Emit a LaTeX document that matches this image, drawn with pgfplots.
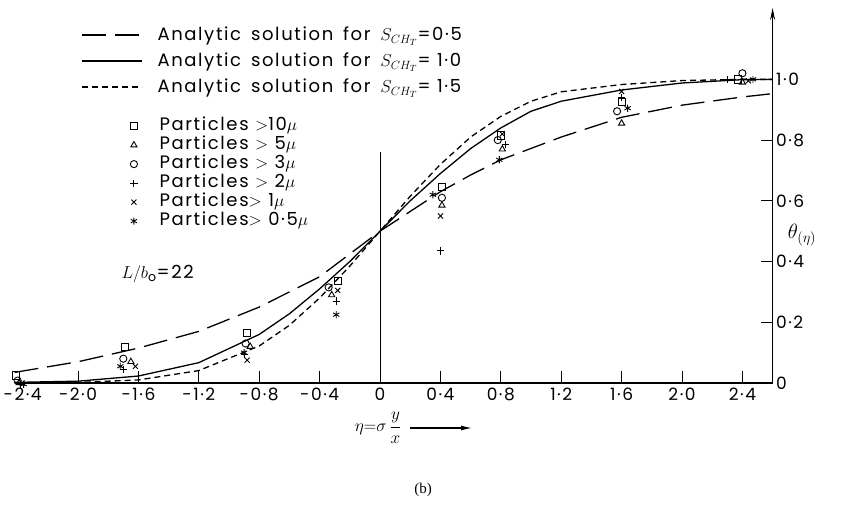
\documentclass[border=0pt]{standalone}
\usepackage{fontspec}
\setmainfont{Poppins}[LetterSpace=9]
\newfontfamily\seriffont{Liberation Serif}
\usepackage{pgfplots}
\usepackage{pgfplotstable}
\pgfplotsset{compat=1.18}
\usetikzlibrary{arrows.meta}

% S_CH = 0.5 (long dashes)
\pgfplotstableread{
eta theta
-2.42 0.035
-2.0 0.070
-1.6 0.115
-1.2 0.170
-0.8 0.250
-0.4 0.350
-0.2 0.425
0.0 0.500
0.2 0.565
0.4 0.630
0.6 0.685
0.8 0.735
1.2 0.810
1.6 0.875
2.0 0.915
2.4 0.942
2.6 0.953
}\tabA
% S_CH = 1.0 (solid)
\pgfplotstableread{
eta theta
-2.42 0.002
-2.0 0.006
-1.6 0.023
-1.2 0.067
-0.8 0.160
-0.6 0.228
-0.4 0.310
-0.2 0.400
0.0 0.500
0.2 0.600
0.4 0.690
0.6 0.772
0.8 0.840
1.0 0.895
1.2 0.928
1.6 0.965
2.0 0.988
2.4 0.999
2.6 1.000
}\tabB
% S_CH = 1.5 (short dashes)
\pgfplotstableread{
eta theta
-2.42 0.000
-2.0 0.002
-1.6 0.010
-1.2 0.041
-0.8 0.122
-0.6 0.190
-0.4 0.280
-0.2 0.385
0.0 0.500
0.2 0.615
0.4 0.720
0.6 0.810
0.8 0.878
1.0 0.928
1.2 0.959
1.6 0.983
2.0 0.996
2.4 1.000
2.6 1.000
}\tabC

\pgfplotsset{
  common/.style={
    scale only axis, width=758pt, height=375pt,
    xmin=-2.42, xmax=2.6, ymin=0, ymax=1.235,
    clip=false,
  },
}
\newcommand{\ws}{\hspace{0.55em}}

\begin{document}
\begin{tikzpicture}[font=\fontsize{18}{21}\selectfont]
\begin{axis}[common,
  axis x line=bottom, axis y line=right,
  axis line style={line width=1.1pt},
  x axis line style={-},
  y axis line style={-{Stealth[length=12pt,width=5pt]}},
  tick align=inside, major tick length=12pt,
  tick style={line width=0.9pt, black},
  xtick={-2,-1.6,-1.2,-0.8,-0.4,0,0.4,0.8,1.2,1.6,2.0,2.4},
  xticklabels={-2·0,-1·6,-1·2,-0·8,-0·4,0,0·4,0·8,1·2,1·6,2·0,2·4},
  extra x ticks={-2.4}, extra x tick labels={-2·4},
  extra x tick style={major tick length=0pt, xticklabel style={xshift=5pt}},
  ytick={0,0.2,0.4,0.6,0.8,1.0},
  yticklabels={0,0·2,0·4,0·6,0·8,1·0},
  ticklabel style={font=\fontsize{17}{19}\selectfont},
  xticklabel style={anchor=base, yshift=-18pt},
  every axis plot/.append style={black, line width=0.9pt, mark size=3.6pt},
  legend image code/.code={\draw[#1] plot coordinates {(0pt,0pt)};},
  legend cell align=left,
  legend style={at={(axis cs:-1.655,0.873)}, anchor=north west, draw=none, fill=none,
    inner sep=0pt, row sep=3pt, column sep=22pt,
    nodes={inner sep=0pt, text height=12pt, text depth=4pt}},
]
\coordinate (O) at (axis cs:-2.42,0);
\addplot[line width=0.6pt, forget plot] coordinates {(0,0) (0,0.76)};
\addplot[only marks, mark=square] coordinates {
(-2.41,0.025) (-1.69,0.12) (-0.88,0.165) (-0.28,0.335) (0.41,0.645) (0.80,0.815) (1.60,0.925) (2.37,1.0)};
\addlegendentry{Particles $>$10$\mu$}
\addplot[only marks, mark=triangle] coordinates {
(-2.39,0.0) (-1.65,0.07) (-0.86,0.12) (-0.32,0.29) (0.41,0.585) (0.81,0.77) (1.60,0.855) (2.40,0.99)};
\addlegendentry{Particles $>$ 5$\mu$}
\addplot[only marks, mark=o] coordinates {
(-2.40,0.008) (-1.70,0.08) (-0.89,0.13) (-0.34,0.315) (0.41,0.61) (0.78,0.80) (1.57,0.895) (2.40,1.02)};
\addlegendentry{Particles $>$ 3$\mu$}
\addplot[only marks, mark=+] coordinates {
(-2.38,-0.004) (-1.70,0.045) (-0.90,0.095) (-0.29,0.27) (0.40,0.435) (0.83,0.785) (1.60,0.94) (2.30,1.0)};
\addlegendentry{Particles $>$ 2$\mu$}
\addplot[only marks, mark=x] coordinates {
(-2.37,0.0) (-1.62,0.055) (-0.88,0.075) (-0.28,0.305) (0.40,0.55) (0.81,0.82) (1.60,0.96) (2.44,0.995)};
\addlegendentry{Particles$>$ 1$\mu$}
\addplot[only marks, mark=asterisk] coordinates {
(-2.36,-0.004) (-1.72,0.055) (-0.90,0.10) (-0.29,0.225) (0.35,0.62) (0.79,0.735) (1.64,0.905) (2.47,1.0)};
\addlegendentry{Particles$>$ 0·5$\mu$}
\end{axis}

\begin{axis}[common, hide axis,
  every axis plot/.append style={black, line width=1.3pt},
  legend image code/.code={\draw[#1] (0pt,1.5pt) -- (60pt,1.5pt);},
  legend cell align=left,
  legend style={at={(axis cs:-1.98,1.170)}, anchor=north west, draw=none, fill=none,
    inner sep=0pt, row sep=9pt, column sep=15pt,
    nodes={inner sep=0pt, text height=13pt, text depth=4pt}},
]
\addplot[dash pattern=on 24pt off 9pt] table[x=eta,y=theta] {\tabA};
\addlegendentry{Analytic\ws solution\ws for\ws $S_{CH_T}$=0·5}
\addplot[solid] table[x=eta,y=theta] {\tabB};
\addlegendentry{Analytic\ws solution\ws for\ws $S_{CH_T}$= 1·0}
\addplot[dash pattern=on 6pt off 4pt] table[x=eta,y=theta] {\tabC};
\addlegendentry{Analytic\ws solution\ws for\ws $S_{CH_T}$= 1·5}
\end{axis}

\coordinate (TL) at ([shift={(-14.6pt,383pt)}]O);
\newcommand{\pxy}[2]{([shift={(#1pt,-#2pt)}]TL)}
\node[anchor=base west] at \pxy{118}{279} {$L/b_{\mathrm{o}}$=22};
\node[anchor=center] at \pxy{802}{235} {\fontsize{22}{24}\selectfont$\theta_{(\eta)}$};
\node[anchor=east] at \pxy{405}{428} {$\eta{=}\sigma\,\displaystyle\frac{y}{x}$};
\draw[-{Latex[length=11pt,width=5pt]}, line width=1.2pt] \pxy{410}{428} -- \pxy{472}{428};
\node[anchor=center] at \pxy{423}{490} {\seriffont\fontsize{15}{18}\selectfont (b)};

\pgfresetboundingbox
\path (TL) rectangle ([shift={(848pt,-508pt)}]TL);
\end{tikzpicture}
\end{document}
